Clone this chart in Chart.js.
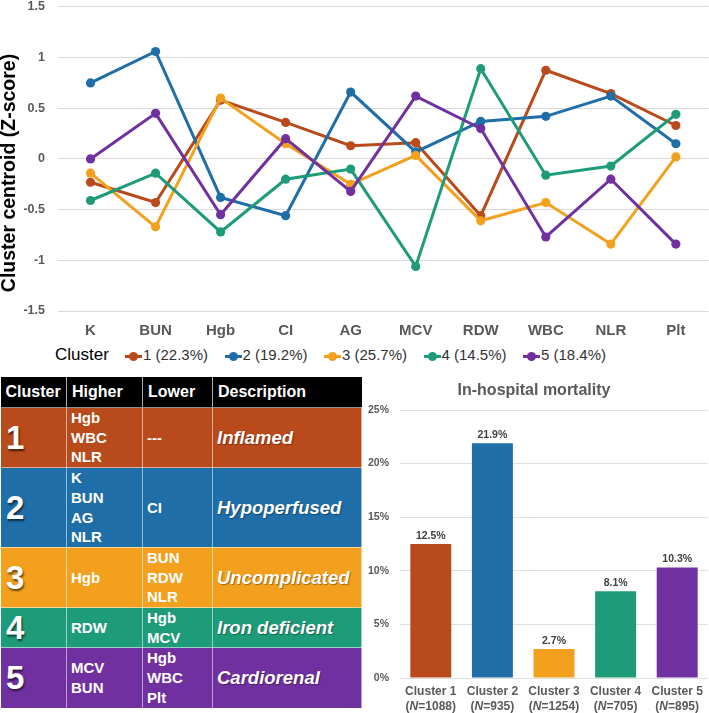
<!DOCTYPE html>
<html>
<head>
<meta charset="utf-8">
<script src="https://cdn.jsdelivr.net/npm/chart.js@4.4.1/dist/chart.umd.min.js"></script>
<style>
  body { margin: 0; background: #fff; font-family: 'Liberation Sans', Arial, sans-serif; }
  #page { position: relative; width: 709px; height: 713px; overflow: hidden; }
  #lineChart { position: absolute; left: 0; top: -13px; }
  #barChart { position: absolute; left: 360px; top: 375px; }
  #legend { position: absolute; left: 55px; top: 345px; height: 20px; line-height: 20px; font-size: 15px; color: #333; white-space: nowrap; }
  #legend .title { display: inline-block; width: 70px; color: #000; font-size: 17px; }
  #legend .item { display: inline-block; width: 99.5px; }
  #legend .mark { display: inline-block; position: relative; width: 17px; height: 3px; vertical-align: middle; margin-right: 1px; }
  #legend .dot { position: absolute; left: 4px; top: -3px; width: 9px; height: 9px; border-radius: 50%; }
  #table { position: absolute; left: 0; top: 377px; width: 362px; border-collapse: collapse; color: #fff; font-weight: bold; }
  #table th { background: #000; height: 30px; font-size: 16px; text-align: left; padding: 0 0 0 5px; border-left: 1px solid #aaa; }
  #table th:first-child { border-left: none; }
  #table td { padding: 0 0 0 4px; font-size: 15px; line-height: 19.7px; vertical-align: middle; border: 1px solid rgba(255,255,255,0.55); }
  #table td.num { font-size: 33px; text-shadow: 1px 2px 2px rgba(0,0,0,0.6); padding-left: 5px; }
  #table td.desc { font-size: 18.5px; font-style: italic; text-shadow: 1px 1px 1px rgba(0,0,0,0.35); }
</style>
</head>
<body>
<div id="page">
  <canvas id="lineChart" width="713" height="353"></canvas>
  <div id="legend"></div>
  <table id="table"></table>
  <canvas id="barChart" width="349" height="338"></canvas>
</div>
<script>
const FONT = "'Liberation Sans', Arial, sans-serif";

// line chart data
const variables = ['K', 'BUN', 'Hgb', 'CI', 'AG', 'MCV', 'RDW', 'WBC', 'NLR', 'Plt'];
const clusterLabels = ['1 (22.3%)', '2 (19.2%)', '3 (25.7%)', '4 (14.5%)', '5 (18.4%)'];
const cluster1 = [-0.23, -0.43, 0.58, 0.36, 0.13, 0.16, -0.56, 0.875, 0.645, 0.33];
const cluster2 = [0.75, 1.06, -0.38, -0.56, 0.66, 0.07, 0.37, 0.42, 0.62, 0.15];
const cluster3 = [-0.14, -0.67, 0.60, 0.15, -0.25, 0.035, -0.61, -0.43, -0.84, 0.02];
const cluster4 = [-0.41, -0.14, -0.72, -0.20, -0.10, -1.06, 0.89, -0.16, -0.07, 0.44];
const cluster5 = [0.0, 0.45, -0.55, 0.20, -0.32, 0.62, 0.30, -0.77, -0.20, -0.84];
const colors = ['#B84A1B', '#1F6EA8', '#F2A01D', '#1E9B79', '#7030A0'];

// bar chart data
const clusterNames = ['Cluster 1', 'Cluster 2', 'Cluster 3', 'Cluster 4', 'Cluster 5'];
const clusterN = [1088, 935, 1254, 705, 895];
const mortality = [12.5, 21.9, 2.7, 8.1, 10.3];

// table data
const tableHeader = ['Cluster', 'Higher', 'Lower', 'Description'];
const higher = [['Hgb', 'WBC', 'NLR'], ['K', 'BUN', 'AG', 'NLR'], ['Hgb'], ['RDW'], ['MCV', 'BUN']];
const lower = [['---'], ['CI'], ['BUN', 'RDW', 'NLR'], ['Hgb', 'MCV'], ['Hgb', 'WBC', 'Plt']];
const descriptions = ['Inflamed', 'Hypoperfused', 'Uncomplicated', 'Iron deficient', 'Cardiorenal'];

const series = [cluster1, cluster2, cluster3, cluster4, cluster5];

// y title drawn by hand, it sits a bit below the plot centre in the original
const yTitle = {
  id: 'yTitle',
  afterDraw(chart) {
    const ctx = chart.ctx;
    ctx.save();
    ctx.translate(10, 186);
    ctx.rotate(-Math.PI / 2);
    ctx.font = 'bold 19.5px ' + FONT;
    ctx.fillStyle = '#000';
    ctx.textAlign = 'center';
    ctx.textBaseline = 'middle';
    ctx.fillText('Cluster centroid (Z-score)', 0, 0);
    ctx.restore();
  }
};

new Chart(document.getElementById('lineChart'), {
  type: 'line',
  data: {
    labels: variables,
    datasets: series.map((d, i) => ({
      label: clusterLabels[i],
      data: d,
      borderColor: colors[i],
      backgroundColor: colors[i],
      borderWidth: 3,
      pointRadius: 4.6,
      pointBorderWidth: 0,
      tension: 0,
      order: 5 - i
    }))
  },
  options: {
    responsive: false,
    animation: false,
    layout: { padding: { top: 7, right: 1 } },
    plugins: { legend: { display: false }, tooltip: { enabled: false } },
    scales: {
      x: {
        offset: true,
        grid: { display: false, drawTicks: false },
        border: { display: false },
        ticks: { color: '#595959', font: { family: FONT, size: 15, weight: 'bold' }, padding: 11, maxRotation: 0, autoSkip: false },
        afterFit: s => { s.height = 29; }
      },
      y: {
        min: -1.5,
        max: 1.5,
        grid: { color: '#d9d9d9', drawTicks: false },
        border: { display: false },
        ticks: {
          stepSize: 0.5,
          callback: v => String(v),
          color: '#595959',
          padding: 13,
          font: { family: FONT, size: 12.5, weight: 'bold', lineHeight: 1.1 }
        },
        afterFit: s => { s.width = 58; }
      }
    }
  },
  plugins: [yTitle]
});

// legend
const legend = document.getElementById('legend');
legend.innerHTML = '<span class="title">Cluster</span>' + clusterLabels.map((l, i) =>
  '<span class="item"><span class="mark" style="background:' + colors[i] + '"><span class="dot" style="background:' + colors[i] + '"></span></span>' + l + '</span>'
).join('');

// table
const table = document.getElementById('table');
let html = '<colgroup><col style="width:66px"><col style="width:76px"><col style="width:70px"><col></colgroup>';
html += '<tr>' + tableHeader.map(h => '<th>' + h + '</th>').join('') + '</tr>';
descriptions.forEach((d, i) => {
  html += '<tr style="background:' + colors[i] + '">' +
    '<td class="num">' + (i + 1) + '</td>' +
    '<td>' + higher[i].join('<br>') + '</td>' +
    '<td>' + lower[i].join('<br>') + '</td>' +
    '<td class="desc">' + d + '</td></tr>';
});
table.innerHTML = html;

// bar chart
const barLabels = {
  id: 'barLabels',
  afterDatasetsDraw(chart) {
    const ctx = chart.ctx;
    ctx.save();
    ctx.font = 'bold 10.5px ' + FONT;
    ctx.fillStyle = '#404040';
    ctx.textAlign = 'center';
    ctx.textBaseline = 'middle';
    chart.getDatasetMeta(0).data.forEach((bar, i) => {
      ctx.fillText(mortality[i] + '%', bar.x, bar.y - 8);
    });
    ctx.restore();
  },
  afterDraw(chart) {
    // second tick line with italic N
    const ctx = chart.ctx;
    const xs = chart.scales.x;
    const y = chart.chartArea.bottom + 6 + 15 + 7.5;
    ctx.save();
    ctx.fillStyle = '#595959';
    ctx.textBaseline = 'middle';
    clusterN.forEach((n, i) => {
      const parts = [['(', 'bold 12px '], ['N', 'italic bold 12px '], ['=' + n + ')', 'bold 12px ']];
      let w = 0;
      parts.forEach(p => { ctx.font = p[1] + FONT; w += ctx.measureText(p[0]).width; });
      let x = xs.getPixelForValue(i) - w / 2;
      parts.forEach(p => {
        ctx.font = p[1] + FONT;
        ctx.fillText(p[0], x, y);
        x += ctx.measureText(p[0]).width;
      });
    });
    ctx.restore();
  }
};

new Chart(document.getElementById('barChart'), {
  type: 'bar',
  data: {
    labels: clusterNames,
    datasets: [{
      data: mortality,
      backgroundColor: colors,
      barPercentage: 0.665,
      categoryPercentage: 1
    }]
  },
  options: {
    responsive: false,
    animation: false,
    layout: { padding: { right: 1 } },
    plugins: {
      legend: { display: false },
      tooltip: { enabled: false },
      title: {
        display: true,
        text: 'In-hospital mortality',
        color: '#595959',
        font: { family: FONT, size: 16, weight: 'bold', lineHeight: 1.2 },
        padding: { top: 6, bottom: 9.8 }
      }
    },
    scales: {
      x: {
        grid: { display: false, drawTicks: false },
        border: { display: false },
        ticks: {
          callback: (v, i) => [clusterNames[i], ''],
          color: '#595959',
          padding: 6,
          maxRotation: 0,
          autoSkip: false,
          font: { family: FONT, size: 12, weight: 'bold', lineHeight: 1.25 }
        },
        afterFit: s => { s.height = 35; }
      },
      y: {
        min: 0,
        max: 25,
        grid: { color: '#e0e0e0', drawTicks: false },
        border: { display: false },
        ticks: {
          stepSize: 5,
          callback: v => v + '%',
          color: '#595959',
          padding: 11,
          font: { family: FONT, size: 10.5, weight: 'bold' }
        },
        afterFit: s => { s.width = 40; }
      }
    }
  },
  plugins: [barLabels]
});
</script>
</body>
</html>
